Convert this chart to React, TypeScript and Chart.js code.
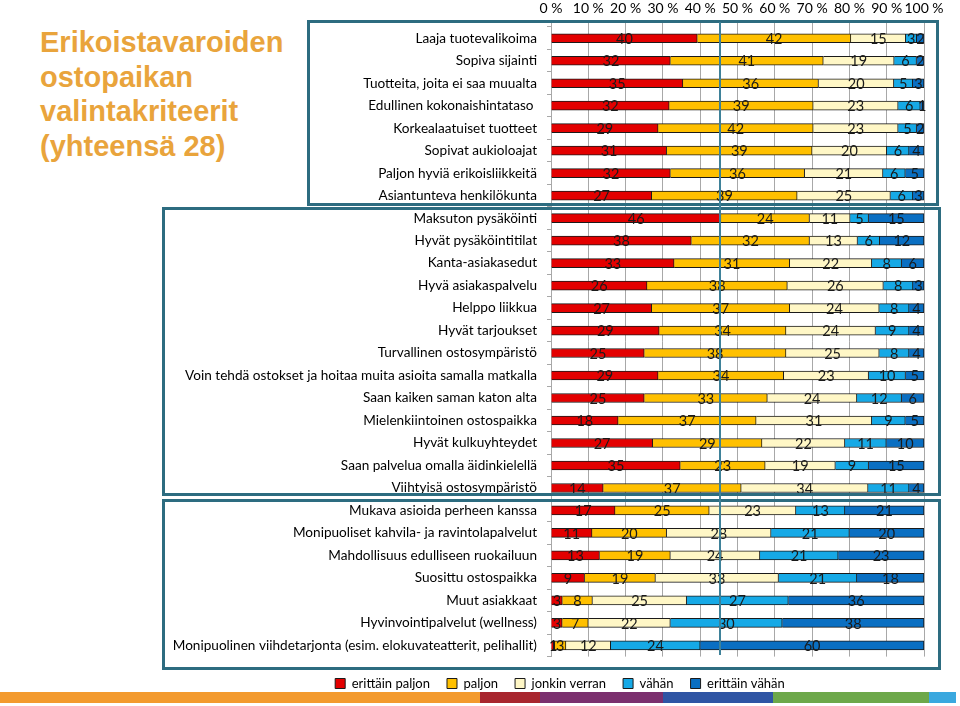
import React, { useEffect, useRef } from "react";
import { Chart, registerables } from "chart.js";

Chart.register(...registerables);

const categories = [
  "Laaja tuotevalikoima",
  "Sopiva sijainti",
  "Tuotteita, joita ei saa muualta",
  "Edullinen kokonaishintataso ",
  "Korkealaatuiset tuotteet",
  "Sopivat aukioloajat",
  "Paljon hyviä erikoisliikkeitä",
  "Asiantunteva henkilökunta",
  "Maksuton pysäköinti",
  "Hyvät pysäköintitilat",
  "Kanta-asiakasedut",
  "Hyvä asiakaspalvelu",
  "Helppo liikkua",
  "Hyvät tarjoukset",
  "Turvallinen ostosympäristö",
  "Voin tehdä ostokset ja hoitaa muita asioita samalla matkalla",
  "Saan kaiken saman katon alta",
  "Mielenkiintoinen ostospaikka",
  "Hyvät kulkuyhteydet",
  "Saan palvelua omalla äidinkielellä",
  "Viihtyisä ostosympäristö",
  "Mukava asioida perheen kanssa",
  "Monipuoliset kahvila- ja ravintolapalvelut",
  "Mahdollisuus edulliseen ruokailuun",
  "Suosittu ostospaikka",
  "Muut asiakkaat",
  "Hyvinvointipalvelut (wellness)",
  "Monipuolinen viihdetarjonta (esim. elokuvateatterit, pelihallit)",
];

const seriesNames = ["erittäin paljon", "paljon", "jonkin verran", "vähän", "erittäin vähän"];

const erittainPaljon = [40, 32, 35, 32, 29, 31, 32, 27, 46, 38, 33, 26, 27, 29, 25, 29, 25, 18, 27, 35, 14, 17, 11, 13, 9, 3, 3, 1];
const paljon = [42, 41, 36, 39, 42, 39, 36, 39, 24, 32, 31, 38, 37, 34, 38, 34, 33, 37, 29, 23, 37, 25, 20, 19, 19, 8, 7, 3];
const jonkinVerran = [15, 19, 20, 23, 23, 20, 21, 25, 11, 13, 22, 26, 24, 24, 25, 23, 24, 31, 22, 19, 34, 23, 28, 24, 33, 25, 22, 12];
const vahan = [3, 6, 5, 6, 5, 6, 6, 6, 5, 6, 8, 8, 8, 9, 8, 10, 12, 9, 11, 9, 11, 13, 21, 21, 21, 27, 30, 24];
const erittainVahan = [2, 2, 3, 1, 2, 4, 5, 3, 15, 12, 6, 3, 4, 4, 4, 5, 6, 5, 10, 15, 4, 21, 20, 23, 18, 36, 38, 60];

const xTicks = [0, 10, 20, 30, 40, 50, 60, 70, 80, 90, 100];

const seriesColors = ["#E30000", "#FFC000", "#FFF7C6", "#16A9E6", "#0A6FC2"];

const FONT = "Lato, 'Open Sans', sans-serif";

const dataLabelPlugin = {
  id: "segLabels",
  afterDatasetsDraw(chart: any) {
    const ctx = chart.ctx;
    ctx.save();
    ctx.font = `14.5px ${FONT}`;
    ctx.fillStyle = "#1a1a1a";
    ctx.textAlign = "center";
    ctx.textBaseline = "middle";
    chart.data.datasets.forEach((ds: any, di: number) => {
      const meta = chart.getDatasetMeta(di);
      meta.data.forEach((el: any, i: number) => {
        const raw = ds.rawValues[i];
        const cx = (el.x + el.base) / 2;
        ctx.fillText(String(raw), cx, el.y + 1);
      });
    });
    ctx.restore();
  },
};

const legendShiftPlugin = {
  id: "legendShift",
  afterLayout(chart: any) {
    if (chart.legend) {
      chart.legend.left += 18;
      chart.legend.right += 18;
    }
  },
};

export default function App() {
  const ref = useRef<HTMLCanvasElement | null>(null);

  useEffect(() => {
    if (!ref.current) return;
    const raws = [erittainPaljon, paljon, jonkinVerran, vahan, erittainVahan];
    const sums = categories.map((_, i) => raws.reduce((s, a) => s + a[i], 0));
    const chart = new Chart(ref.current, {
      type: "bar",
      data: {
        labels: categories,
        datasets: raws.map((arr, k) => ({
          label: seriesNames[k],
          data: arr.map((v, i) => (v / sums[i]) * 100),
          rawValues: arr,
          backgroundColor: seriesColors[k],
          borderColor: "#1a1a1a",
          borderWidth: 1,
          barThickness: 9,
        })) as any,
      },
      options: {
        indexAxis: "y",
        responsive: false,
        animation: false,
        layout: { padding: { left: 0, right: 36, top: 0, bottom: 0 } },
        plugins: {
          tooltip: { enabled: false },
          legend: {
            position: "bottom",
            title: { display: true, text: " ", font: { size: 2 }, padding: { top: 0, bottom: 1 } },
            labels: {
              boxWidth: 10,
              boxHeight: 10,
              padding: 17,
              color: "#000",
              font: { family: FONT, size: 13 },
            },
          },
        },
        scales: {
          x: {
            position: "top",
            stacked: true,
            min: 0,
            max: 100,
            afterFit: (s: any) => {
              s.height = 27;
            },
            afterBuildTicks: (s: any) => {
              s.ticks = xTicks.map((v) => ({ value: v }));
            },
            ticks: {
              padding: 5,
              color: "#000",
              font: { family: FONT, size: 14 },
              callback: (v: any) => `${v} %`,
              maxRotation: 0,
              autoSkip: false,
            },
            grid: { color: "#A8A8A8", lineWidth: 1, tickLength: 5, drawTicks: true },
            border: { display: false },
          },
          y: {
            stacked: true,
            afterFit: (s: any) => {
              s.width = 391;
            },
            ticks: {
              padding: 10,
              color: "#000",
              font: { family: FONT, size: 13.6 },
              autoSkip: false,
            },
            grid: { drawOnChartArea: false, drawTicks: true, tickLength: 4, color: "#A8A8A8", offset: true },
            border: { display: true, color: "#A8A8A8" },
          },
        },
      },
      plugins: [dataLabelPlugin, legendShiftPlugin],
    } as any);
    return () => chart.destroy();
  }, []);

  const frame = (l: number, t: number, r: number, b: number) => ({
    position: "absolute" as const,
    left: l,
    top: t,
    width: r - l,
    height: b - t,
    border: "3px solid #2D6C80",
    boxSizing: "border-box" as const,
    pointerEvents: "none" as const,
  });

  const strip = (l: number, r: number, c: string) => ({
    position: "absolute" as const,
    left: l,
    top: 692,
    width: r - l,
    height: 11,
    background: c,
  });

  return (
    <div style={{ position: "absolute", left: 0, top: 0, width: 960, height: 706, overflow: "hidden", background: "#fff" }}>
      <div
        style={{
          position: "absolute",
          left: 40,
          top: 25,
          fontFamily: "'Liberation Sans', Arial, sans-serif",
          fontWeight: "bold",
          fontSize: 29,
          lineHeight: "34.7px",
          color: "#E9A43C",
          whiteSpace: "nowrap",
        }}
      >
        Erikoistavaroiden
        <br />
        ostopaikan
        <br />
        valintakriteerit
        <br />
        (yhteensä 28)
      </div>
      <div style={{ position: "absolute", left: 160, top: 0, width: 800, height: 700 }}>
        <canvas ref={ref} width={800} height={700} style={{ display: "block" }} />
      </div>
      <div style={frame(307, 20, 939, 206)} />
      <div style={frame(162, 207, 941, 496)} />
      <div style={frame(162, 499, 941, 670)} />
      <div style={{ position: "absolute", left: 719, top: 22, width: 2, height: 633, background: "#3E8199" }} />
      <div style={strip(0, 480, "#F39A2E")} />
      <div style={strip(480, 540, "#A8262E")} />
      <div style={strip(540, 663, "#7B2F6E")} />
      <div style={strip(663, 773, "#2F55A4")} />
      <div style={strip(773, 929, "#6DA84A")} />
      <div style={strip(929, 956, "#3AA8DF")} />
    </div>
  );
}
